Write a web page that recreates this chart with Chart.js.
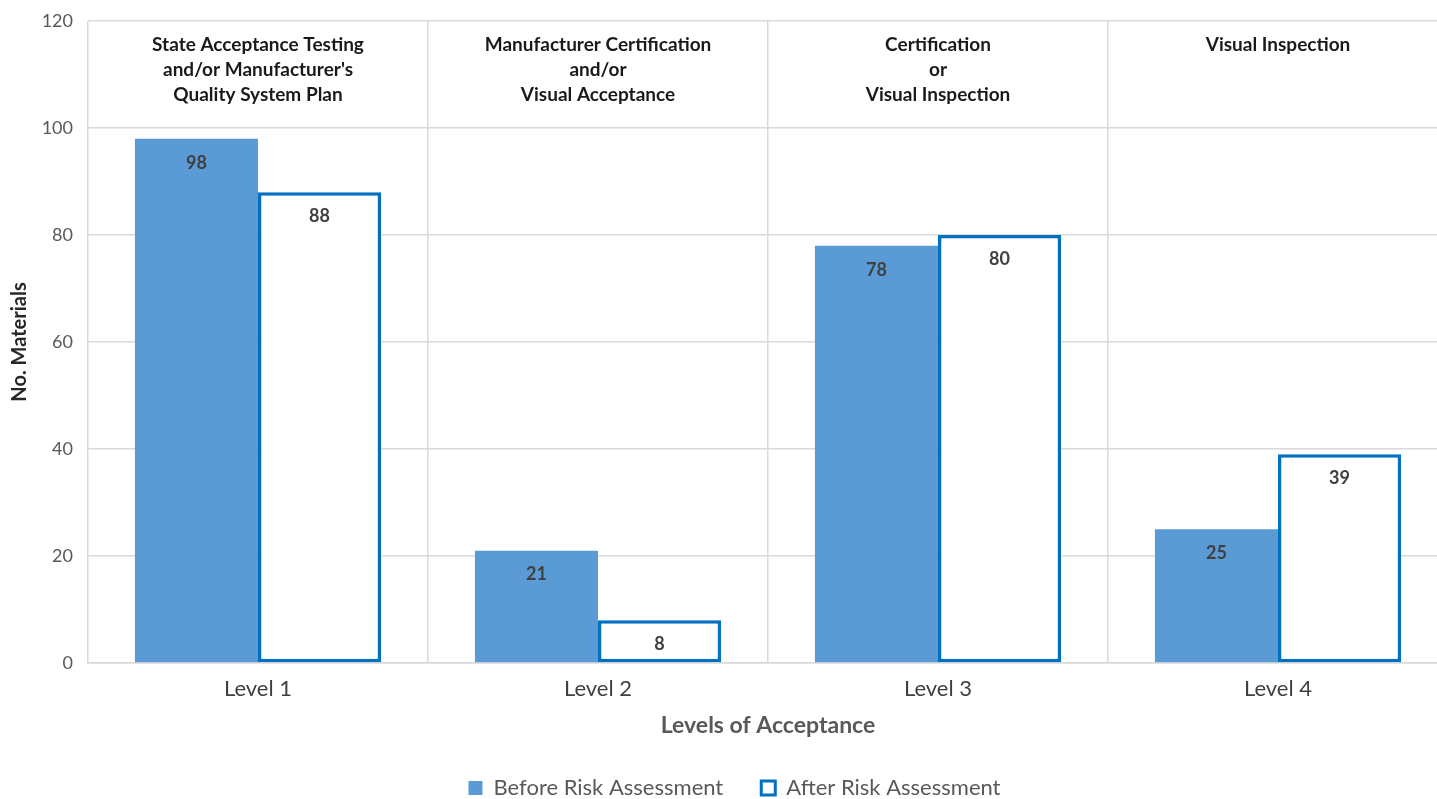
<!DOCTYPE html>
<html>
<head>
<meta charset="utf-8">
<script src="https://cdn.jsdelivr.net/npm/chart.js@4/dist/chart.umd.min.js"></script>
<style>
  html, body { margin: 0; padding: 0; background: #fff; }
  #wrap { width: 1437px; height: 799px; overflow: hidden; }
</style>
</head>
<body>
<div id="wrap"><canvas id="myChart" width="1448" height="799"></canvas></div>
<script>
var levels = ['Level 1', 'Level 2', 'Level 3', 'Level 4'];
var before = [98, 21, 78, 25];
var after = [88, 8, 80, 39];
var methods = [
    ['State Acceptance Testing', 'and/or Manufacturer\'s', 'Quality System Plan'],
    ['Manufacturer Certification', 'and/or', 'Visual Acceptance'],
    ['Certification', 'or', 'Visual Inspection'],
    ['Visual Inspection']
];
var yTicks = [0, 20, 40, 60, 80, 100, 120];

var FONT = 'Lato, "Open Sans", sans-serif';

// acceptance method text at the top of each level column
var methodText = {
    id: 'methodText',
    afterDatasetsDraw: function(chart) {
        var c = chart.ctx, x = chart.scales.x, top = chart.chartArea.top;
        c.save();
        c.font = 'bold 19px ' + FONT;
        c.fillStyle = '#1a1a1a';
        c.textAlign = 'center';
        c.textBaseline = 'middle';
        methods.forEach(function(lines, i) {
            var cx = x.getPixelForValue(i);
            lines.forEach(function(t, j) {
                c.fillText(t, cx, top + 24 + j * 25);
            });
        });
        c.restore();
    }
};

// value labels just under the top of every bar
var barValues = {
    id: 'barValues',
    afterDatasetsDraw: function(chart) {
        var c = chart.ctx;
        c.save();
        c.font = 'bold 18px ' + FONT;
        c.fillStyle = '#404040';
        c.textAlign = 'center';
        c.textBaseline = 'middle';
        chart.data.datasets.forEach(function(ds, di) {
            chart.getDatasetMeta(di).data.forEach(function(bar, i) {
                c.fillText(ds.data[i], bar.x, bar.y + 24);
            });
        });
        c.restore();
    }
};

var ctx = document.getElementById('myChart').getContext('2d');
var myChart = new Chart(ctx, {
    type: 'bar',
    data: {
        labels: levels,
        datasets: [{
            label: 'Before Risk Assessment',
            data: before,
            backgroundColor: '#5B9BD5',
            borderWidth: 0
        }, {
            label: 'After Risk Assessment',
            data: after,
            backgroundColor: '#ffffff',
            borderColor: '#0070C0',
            borderWidth: 3.5,
            borderSkipped: false
        }]
    },
    options: {
        responsive: false,
        animation: false,
        layout: { padding: { left: 6, right: -15, top: 0, bottom: -10 } },
        datasets: { bar: { categoryPercentage: 0.724, barPercentage: 1 } },
        plugins: {
            tooltip: { enabled: false },
            legend: {
                position: 'bottom',
                labels: {
                    font: { family: FONT, size: 22 },
                    color: '#595959',
                    boxWidth: 14,
                    boxHeight: 14,
                    padding: 38,
                    generateLabels: function(chart) {
                        return chart.data.datasets.map(function(ds, i) {
                            return {
                                text: ds.label,
                                fillStyle: ds.backgroundColor,
                                strokeStyle: i === 0 ? ds.backgroundColor : ds.borderColor,
                                lineWidth: i === 0 ? 0 : 3,
                                fontColor: '#595959',
                                datasetIndex: i
                            };
                        });
                    }
                }
            }
        },
        scales: {
            x: {
                grid: { color: '#d9d9d9', lineWidth: 1.5, drawTicks: false },
                border: { color: '#d9d9d9', width: 1.5 },
                ticks: { font: { family: FONT, size: 22 }, color: '#404040', padding: 13 },
                title: {
                    display: true,
                    text: 'Levels of Acceptance',
                    font: { family: FONT, size: 23, weight: 'bold' },
                    color: '#595959',
                    padding: { top: 8, bottom: 0 }
                },
                afterFit: function(s) { s.height = 76; }
            },
            y: {
                min: 0,
                max: 120,
                afterBuildTicks: function(s) {
                    s.ticks = yTicks.map(function(v) { return { value: v }; });
                },
                grid: { color: '#d9d9d9', lineWidth: 1.5, drawTicks: false },
                border: { display: false },
                ticks: { font: { family: FONT, size: 18 }, color: '#595959', padding: 15 },
                title: {
                    display: true,
                    text: 'No. Materials',
                    font: { family: FONT, size: 20, weight: 'bold' },
                    color: '#262626',
                    padding: { top: 2, bottom: 0 }
                },
                afterFit: function(s) {
                    s.width = 82;
                    s.paddingTop = 21;
                }
            }
        }
    },
    plugins: [methodText, barValues]
});
</script>
</body>
</html>
